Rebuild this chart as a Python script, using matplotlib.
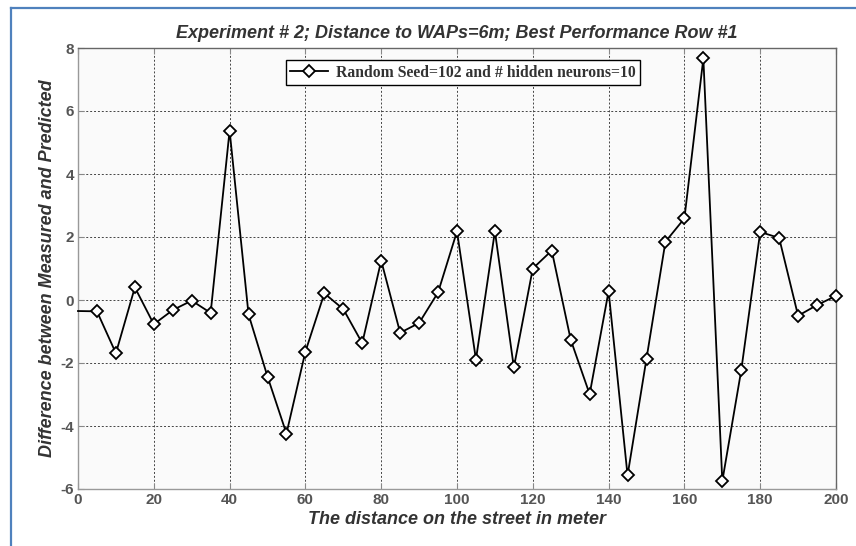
import matplotlib
matplotlib.use("Agg")
import matplotlib.pyplot as plt
from matplotlib.lines import Line2D

# Data
distance = [0, 5, 10, 15, 20, 25, 30, 35, 40, 45, 50, 55, 60, 65, 70, 75, 80, 85, 90, 95, 100,
            105, 110, 115, 120, 125, 130, 135, 140, 145, 150, 155, 160, 165, 170, 175, 180,
            185, 190, 195, 200]
difference = [-0.35, -0.36, -1.69, 0.40, -0.77, -0.32, -0.02, -0.41, 5.38, -0.46, -2.43, -4.24,
              -1.64, 0.21, -0.29, -1.37, 1.25, -1.04, -0.73, 0.24, 2.18,
              -1.89, 2.18, -2.14, 1.00, 1.57, -1.26, -2.99, 0.28, -5.57, -1.86, 1.85, 2.59,
              7.67, -5.75, -2.23, 2.16, 1.97, -0.50, -0.16, 0.13]
x_ticks = [0, 20, 40, 60, 80, 100, 120, 140, 160, 180, 200]
y_ticks = [-6, -4, -2, 0, 2, 4, 6, 8]
title = "Experiment # 2; Distance to WAPs=6m; Best Performance Row #1"
xlabel = "The distance on the street in meter"
ylabel = "Difference between Measured and Predicted"
legend_label = "Random Seed=102 and # hidden neurons=10"

W, H = 856, 546
fig = plt.figure(figsize=(W / 100, H / 100), dpi=100)
fig.patch.set_facecolor("white")
ax = fig.add_axes([78 / W, 1 - 489 / H, (836 - 78) / W, (489 - 48) / H])
ax.set_facecolor("#fafafa")

ax.plot(distance, difference, color="black", lw=1.3, marker="D", ms=6.5,
        mfc="white", mec="black", mew=1.3, markevery=list(range(1, len(distance))),
        label=legend_label, zorder=3, clip_on=False)

ax.set_xlim(0, 200)
ax.set_ylim(-6, 8)
ax.set_xticks(x_ticks)
ax.set_yticks(y_ticks)
ax.grid(True, color="#444444", linestyle=(0, (2, 2)), lw=0.7)

tick_font = dict(family="Liberation Sans", weight="bold", size=11)
ax.set_xticklabels([str(t) for t in x_ticks], fontdict=tick_font, color="#555555")
ax.set_yticklabels([str(t) for t in y_ticks], fontdict=tick_font, color="#555555")
ax.tick_params(axis="both", direction="in", length=4, color="#888888", pad=3,
               top=True, right=True)

for side in ("top", "right"):
    ax.spines[side].set_color("#666666")
for side in ("bottom", "left"):
    ax.spines[side].set_color("#999999")
for s in ax.spines.values():
    s.set_linewidth(1.0)

lab_font = dict(family="Liberation Sans", weight="bold", style="italic", size=13)
ax.set_title(title, fontdict=lab_font, color="#333333", pad=7)
ax.set_xlabel(xlabel, fontdict=lab_font, color="#333333", labelpad=3)
ax.set_ylabel(ylabel, fontdict=lab_font, color="#333333", labelpad=3)

leg = ax.legend(loc="upper center", bbox_to_anchor=(0.508, 0.973), frameon=True,
                fancybox=False, edgecolor="black", facecolor="white", framealpha=1,
                prop=dict(family="Liberation Serif", weight="bold", size=11.3),
                handlelength=2.4, borderpad=0.3, handletextpad=0.5, borderaxespad=0)
leg.get_frame().set_linewidth(1.0)
for t in leg.get_texts():
    t.set_color("#333333")

# blue frame (left and top edges)
blue = "#4f81bd"
fig.add_artist(Line2D([11 / W, 11 / W], [0, 1 - 8 / H], color=blue, lw=1.6,
                      transform=fig.transFigure))
fig.add_artist(Line2D([11 / W, 1], [1 - 8 / H, 1 - 8 / H], color=blue, lw=1.6,
                      transform=fig.transFigure))

fig.savefig("out.png", dpi=100)
